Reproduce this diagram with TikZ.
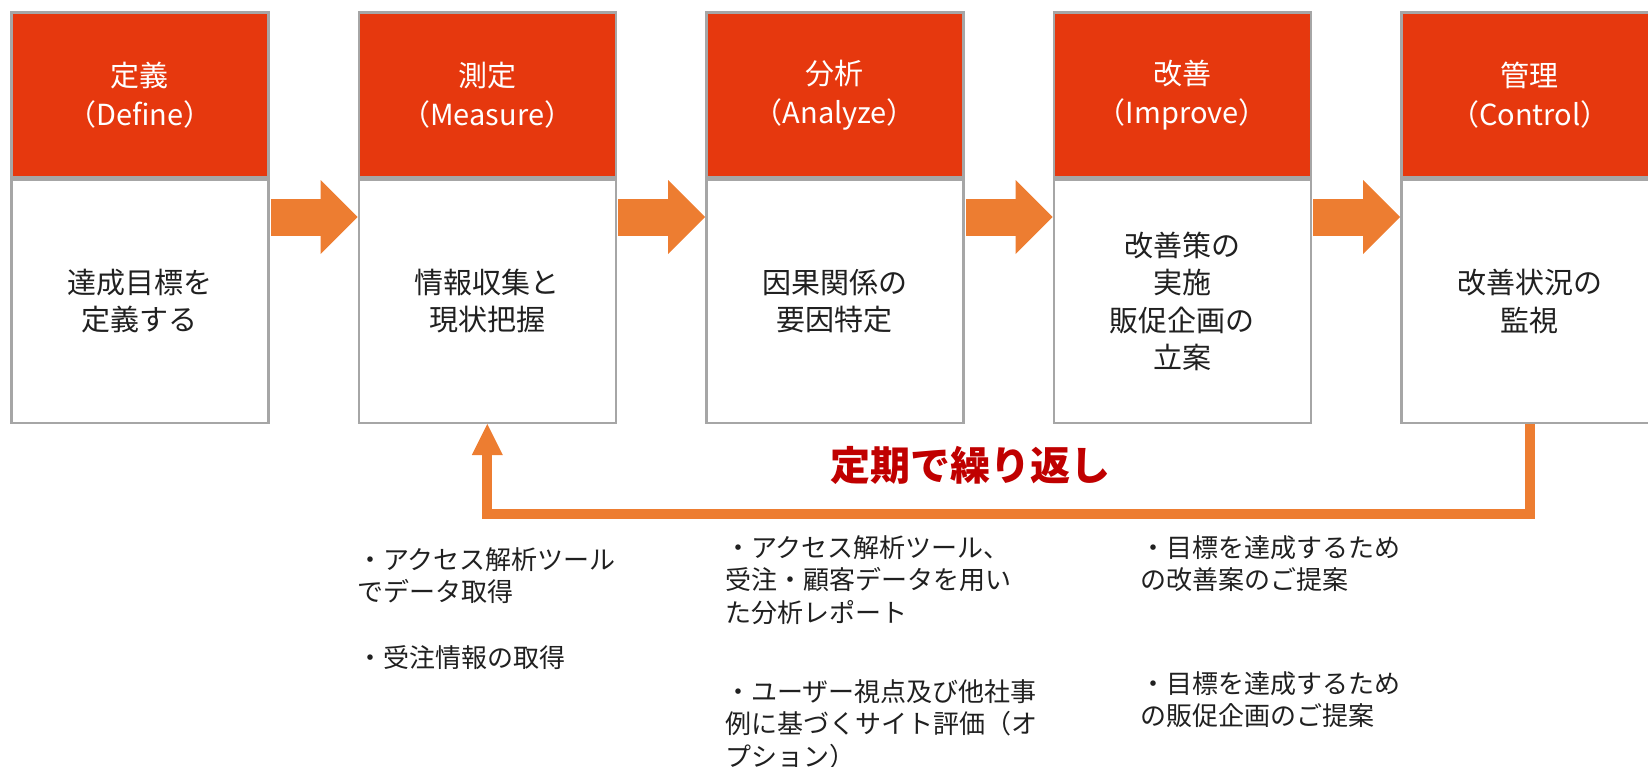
\documentclass[tikz,border=0pt]{standalone}
\usepackage{fontspec}
\setmainfont{Noto Sans CJK JP}
\usetikzlibrary{arrows.meta,calc}
\definecolor{hdred}{HTML}{E6380E}
\definecolor{arrorange}{HTML}{ED7D31}
\definecolor{bordergray}{HTML}{A6A6A6}
\definecolor{titlered}{HTML}{C00000}
\definecolor{txt}{HTML}{202020}
\begin{document}
\begin{tikzpicture}[x=1pt,y=1pt,
 hdr/.style={draw=bordergray, line width=2.5pt, fill=hdred, text=white, minimum width=257pt, minimum height=165pt, anchor=north west, inner sep=0pt, align=center, font=\fontsize{29}{39}\selectfont},
 bodybox/.style={draw=bordergray, line width=2.5pt, fill=white, text=txt, minimum width=257pt, minimum height=243pt, anchor=north west, inner sep=0pt, align=center, font=\fontsize{29}{37.5}\selectfont},
 flow/.style={draw=arrorange, line width=37pt, -{Triangle[length=37pt,width=74pt,line width=0pt]}, shorten <=1.25pt},
 loopline/.style={draw=arrorange, line width=10pt, -{Triangle[length=31pt,width=31pt,line width=0pt]}},
 note/.style={anchor=north west, inner sep=0pt, align=left, text=txt, font=\fontsize{26}{32.5}\selectfont},
 titletext/.style={text=titlered, inner sep=0pt, font=\bfseries\fontsize{40}{40}\selectfont},
]
\path[use as bounding box] (0,0) rectangle (1648,-766);

\node[hdr] (h1) at (10,-11) {定義\\（Define）};
\node[hdr] (h2) at (357.5,-11) {測定\\（Measure）};
\node[hdr] (h3) at (705,-11) {分析\\（Analyze）};
\node[hdr] (h4) at (1052.5,-11) {改善\\（Improve）};
\node[hdr] (h5) at (1400,-11) {管理\\（Control）};

\node[bodybox] (b1) at (h1.south west) {達成目標を\\定義する};
\node[bodybox] (b2) at (h2.south west) {情報収集と\\現状把握};
\node[bodybox] (b3) at (h3.south west) {因果関係の\\要因特定};
\node[bodybox] (b4) at (h4.south west) {改善策の\\実施\\販促企画の\\立案};
\node[bodybox] (b5) at (h5.south west) {改善状況の\\監視};

\draw[flow] ([yshift=-38.5pt]h1.south east) -- ([yshift=-38.5pt]h2.south west);
\draw[flow] ([yshift=-38.5pt]h2.south east) -- ([yshift=-38.5pt]h3.south west);
\draw[flow] ([yshift=-38.5pt]h3.south east) -- ([yshift=-38.5pt]h4.south west);
\draw[flow] ([yshift=-38.5pt]h4.south east) -- ([yshift=-38.5pt]h5.south west);

\draw[loopline] (b5.south) -- ++(0,-89.5) -| (b2.south);

\node[titletext] (title) at (970,-465) {定期で繰り返し};

\node[note] (n1) at (357,-547) {・アクセス解析ツール\\でデータ取得};
\node[note] (n2) at (357,-645) {・受注情報の取得};
\node[note] (n3) at (725,-535) {・アクセス解析ツール、\\受注・顧客データを用い\\た分析レポート};
\node[note] (n4) at (725,-679) {・ユーザー視点及び他社事\\例に基づくサイト評価（オ\\プション）};
\node[note] (n5) at (1140,-535) {・目標を達成するため\\の改善案のご提案};
\node[note] (n6) at (1140,-671) {・目標を達成するため\\の販促企画のご提案};
\end{tikzpicture}
\end{document}
